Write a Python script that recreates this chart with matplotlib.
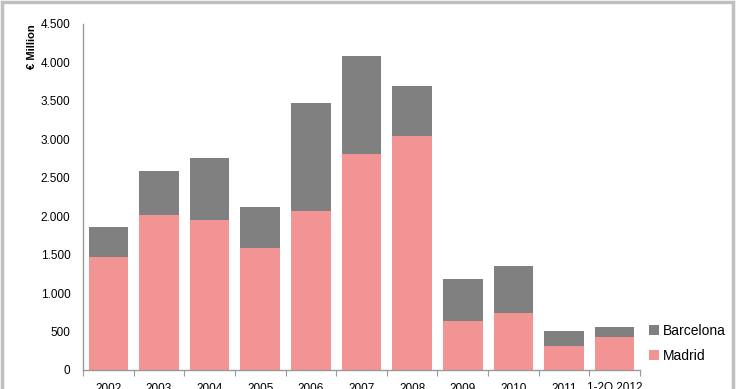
import matplotlib
matplotlib.use("Agg")
import matplotlib.pyplot as plt
from matplotlib.patches import Rectangle
from matplotlib.ticker import FuncFormatter, FixedLocator
import numpy as np

categories = ["2002", "2003", "2004", "2005", "2006", "2007", "2008", "2009", "2010", "2011", "1-2Q 2012"]
madrid = [1470, 2010, 1945, 1590, 2070, 2815, 3045, 635, 745, 315, 435]
barcelona = [395, 575, 815, 530, 1405, 1270, 655, 550, 605, 190, 120]
yticks = [0, 500, 1000, 1500, 2000, 2500, 3000, 3500, 4000, 4500]

plt.rcParams['font.family'] = ['Liberation Sans Narrow', 'Liberation Sans', 'DejaVu Sans']

W, H = 740, 389
fig = plt.figure(figsize=(W / 100, H / 100), dpi=100)
ax = fig.add_axes([83 / W, (H - 370) / H, (640 - 83) / W, (370 - 24) / H])

x = np.arange(len(categories))
ax.bar(x, madrid, width=0.78, color="#F29494", label="Madrid", zorder=2)
ax.bar(x, barcelona, width=0.78, bottom=madrid, color="#808080", label="Barcelona", zorder=2)

ax.set_xlim(-0.5, len(categories) - 0.5)
ax.set_ylim(0, 4500)
ax.set_yticks(yticks)
ax.yaxis.set_major_formatter(FuncFormatter(lambda v, p: f"{int(v):,}".replace(",", ".")))
ax.tick_params(axis="y", length=0, pad=9, labelsize=8.5, colors="#000000")
ax.set_xticks(x)
ax.set_xticklabels(categories)
ax.tick_params(axis="x", which="major", length=0, pad=9, labelsize=8.5)
ax.xaxis.set_minor_locator(FixedLocator(np.arange(-0.5, len(categories), 1.0)))
ax.tick_params(axis="x", which="minor", length=4, width=0.8, color="#999999")

for s in ["top", "right"]:
    ax.spines[s].set_visible(False)
for s in ["left", "bottom"]:
    ax.spines[s].set_color("#999999")
    ax.spines[s].set_linewidth(1.0)

handles, labels = ax.get_legend_handles_labels()
fig.legend(handles[::-1], labels[::-1], loc="upper left",
           bbox_to_anchor=(643 / W, (H - 318) / H), frameon=False,
           fontsize=10, handlelength=0.75, handleheight=0.75,
           handletextpad=0.25, labelspacing=0.8, borderaxespad=0)

fig.text(32 / W, (H - 47) / H, "€ Million", rotation=90, ha="center", va="center",
         fontsize=8, fontweight="bold")

fig.patches.append(Rectangle((1.5 / W, -0.1), (733 - 1.5) / W, 1.1 - 1.5 / H,
                             transform=fig.transFigure, fill=False,
                             edgecolor="#BFBFBF", linewidth=2.5, zorder=10))

fig.savefig("out.png", dpi=100)
